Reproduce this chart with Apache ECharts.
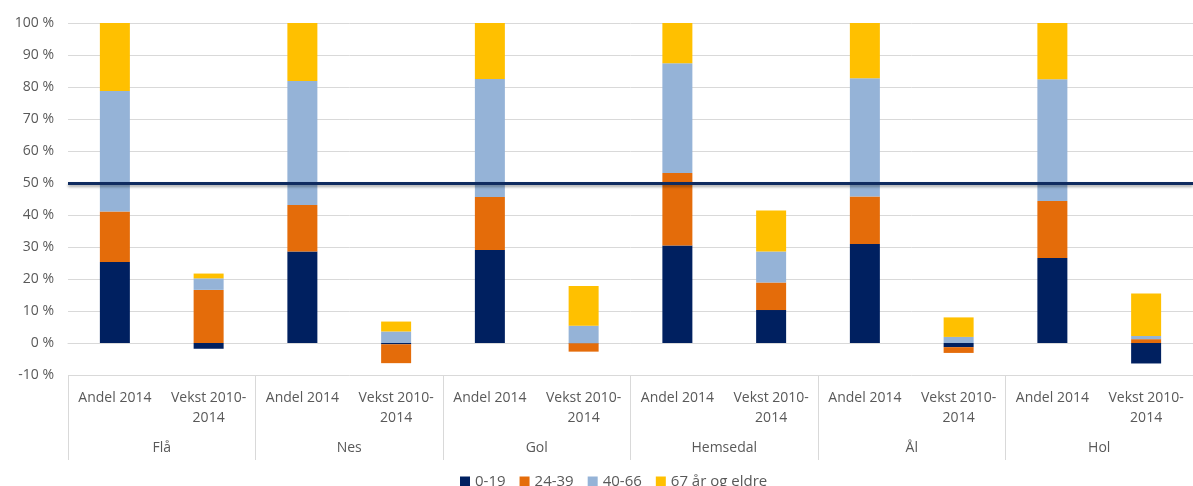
<!DOCTYPE html>
<html>
<head>
<meta charset="utf-8">
<script src="https://cdn.jsdelivr.net/npm/echarts@6/dist/echarts.min.js"></script>
<style>html,body{margin:0;padding:0;background:#fff}#c{width:1193px;height:486px}</style>
</head>
<body>
<div id="c"></div>
<script>
const groups = ['Flå', 'Nes', 'Gol', 'Hemsedal', 'Ål', 'Hol'];
const measures = ['Andel 2014', 'Vekst 2010-\n2014'];
const seriesNames = ['0-19', '24-39', '40-66', '67 år og eldre'];
const age0_19  = [25.3, -1.8, 28.6, -0.4, 29.1, -0.1, 30.5, 10.3, 30.9, -1.3, 26.6, -6.4];
const age24_39 = [15.8, 16.6, 14.5, -5.9, 16.5, -2.6, 22.6, 8.6, 14.85, -1.8, 17.8, 1.2];
const age40_66 = [37.65, 3.6, 38.8, 3.6, 36.9, 5.4, 34.3, 9.7, 36.95, 1.9, 38.0, 1.0];
const age67    = [21.25, 1.5, 18.1, 3.1, 17.5, 12.4, 12.6, 12.8, 17.3, 6.1, 17.6, 13.3];
const referenceLine = 50;

const categories = [];
groups.forEach(g => measures.forEach(m => categories.push(m)));
const colors = ['#002060', '#E46C0A', '#95B3D7', '#FFC000'];
const values = [age0_19, age24_39, age40_66, age67];
const font = 'Open Sans';

const series = values.map((d, i) => ({
  name: seriesNames[i],
  type: 'bar',
  stack: 'total',
  barWidth: 30,
  data: d,
  itemStyle: { color: colors[i] },
  emphasis: { disabled: true }
}));
series[3].markLine = {
  silent: true,
  symbol: 'none',
  label: { show: false },
  lineStyle: { color: '#0F2B5F', width: 3, type: 'solid', shadowColor: 'rgba(0,0,0,0.35)', shadowBlur: 3, shadowOffsetY: 2 },
  data: [{ yAxis: referenceLine }]
};

const chart = echarts.init(document.getElementById('c'), null, { renderer: 'canvas' });
chart.setOption({
  animation: false,
  color: colors,
  grid: { left: 68, right: -3, top: 23, bottom: 111, containLabel: false },
  legend: {
    data: seriesNames,
    bottom: -8,
    left: 455,
    icon: 'rect',
    itemWidth: 10,
    itemHeight: 10,
    itemGap: 14,
    textStyle: { color: '#595959', fontSize: 15, fontFamily: font }
  },
  xAxis: [
    {
      type: 'category',
      data: categories,
      position: 'bottom',
      axisLine: { show: true, lineStyle: { color: '#d9d9d9', width: 1 } },
      axisTick: { show: false },
      axisLabel: { interval: 0, margin: 13, color: '#595959', fontSize: 14, fontFamily: font, lineHeight: 20 }
    },
    {
      type: 'category',
      data: groups,
      position: 'bottom',
      gridIndex: 0,
      axisLine: { show: false },
      axisTick: { show: true, length: 85, lineStyle: { color: '#d9d9d9', width: 1 } },
      axisLabel: { interval: 0, margin: 66, color: '#595959', fontSize: 14, fontFamily: font }
    }
  ],
  yAxis: {
    type: 'value',
    min: -10,
    max: 100,
    interval: 10,
    axisLine: { show: false },
    axisTick: { show: false },
    splitLine: { lineStyle: { color: '#d9d9d9', width: 1 } },
    axisLabel: { formatter: v => v + ' %', color: '#595959', fontSize: 14, fontFamily: font, margin: 14 }
  },
  series: series
});
</script>
</body>
</html>
